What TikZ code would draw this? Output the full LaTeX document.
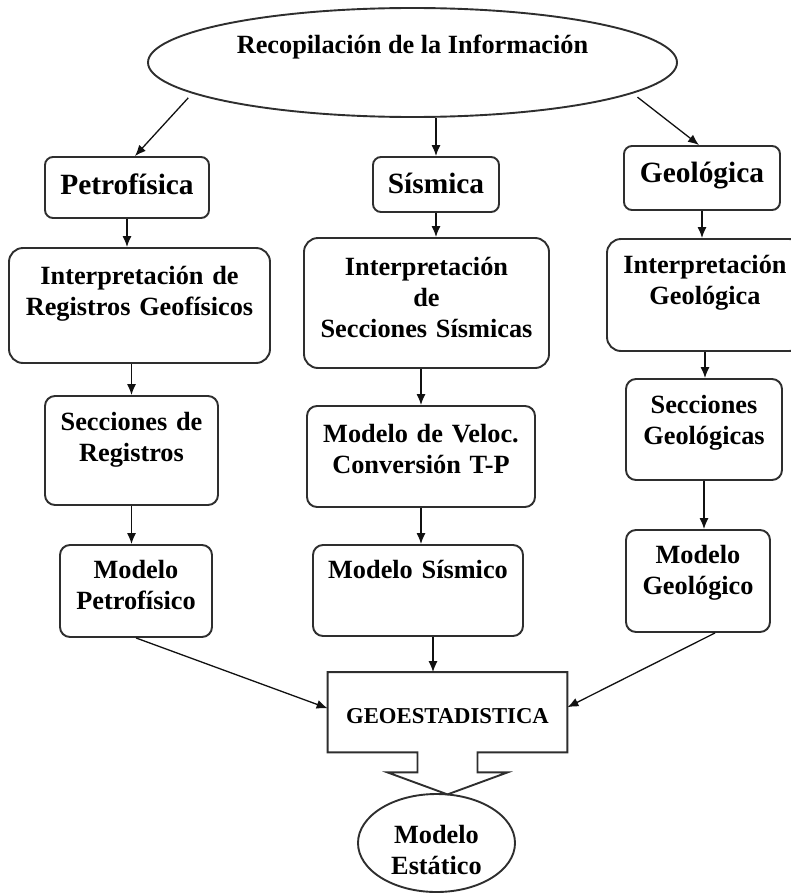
\documentclass[tikz,border=0pt]{standalone}
\usepackage{fontspec}
\setmainfont{Liberation Serif}
\usetikzlibrary{arrows.meta, shapes.geometric, calc}
\definecolor{cFrame}{HTML}{2E2E2E}
\definecolor{cArrow}{HTML}{111111}

\begin{document}
\begin{tikzpicture}[
  x=0.5pt, y=-0.5pt,
  box/.style={rectangle, rounded corners=5pt, draw=cFrame, line width=0.95pt,
    inner sep=0pt, align=center, anchor=base,
    font=\fontsize{13.15}{15.5}\selectfont\bfseries},
  head/.style={box, rounded corners=4pt, font=\fontsize{14.7}{17}\selectfont\bfseries},
  bigbox/.style={box, rounded corners=7pt},
  oval/.style={ellipse, draw=cFrame, line width=0.95pt, inner sep=0pt, align=center,
    font=\fontsize{13.15}{15.5}\selectfont\bfseries},
  geobox/.style={rectangle, inner sep=0pt, align=center, anchor=base,
    font=\fontsize{11.35}{13}\selectfont\bfseries},
  frame/.style={draw=cFrame, line width=0.95pt},
  arr/.style={-{Latex[length=5.5pt,width=4.5pt]}, line width=0.65pt, cArrow}
]
  \useasboundingbox (0,0) rectangle (791,894);

  \node[oval, minimum width=264.5pt, minimum height=54.5pt, text height=10pt, text depth=19.5pt]
    (info) at (412.5,62.5) {Recopilación de la Información};

  % first row
  \node[head, text width=82pt, text height=18.5pt, text depth=12pt] (petro) at (127,194) {Petrofísica};
  \node[head, text width=63pt, text height=18pt, text depth=9.5pt] (sism) at (436,193) {Sísmica};
  \node[head, text width=78pt, text height=18pt, text depth=14pt] (geol) at (702,182) {Geológica};

  % interpretation
  \node[bigbox, text width=130.5pt, text height=18pt, text depth=39.5pt] (intreg) at (139.5,284)
    {Interpretación de\\Registros Geofísicos};
  \node[bigbox, text width=122.5pt, text height=18.5pt, text depth=46.5pt] (intsis) at (426.5,275)
    {Interpretación\\de\\Secciones Sísmicas};
  \node[bigbox, text width=98pt, text height=17pt, text depth=39pt] (intgeo) at (705,273)
    {Interpretación\\Geológica};

  \node[box, text width=86.5pt, text height=17pt, text depth=37.5pt] (secreg) at (131.5,430)
    {Secciones de\\Registros};
  \node[box, text width=114pt, text height=18pt, text depth=32.5pt] (veloc) at (421,442)
    {Modelo de Veloc.\\Conversión T-P};
  \node[box, text width=78pt, text height=17pt, text depth=33.5pt] (secgeo) at (704,413)
    {Secciones\\Geológicas};

  % models
  \node[box, text width=76pt, text height=16.5pt, text depth=29.5pt] (modpet) at (136,578)
    {Modelo\\Petrofísico};
  \node[box, text width=105pt, text height=16.5pt, text depth=29pt] (modsis) at (418,578)
    {Modelo Sísmico};
  \node[box, text width=72pt, text height=16.5pt, text depth=34.5pt] (modgeo) at (698,563)
    {Modelo\\Geológico};

  \node[geobox, text width=119.5pt, text height=25.25pt, text depth=14.5pt] (geo) at (447.5,723)
    {GEOESTADISTICA};
  \node[oval, minimum width=78.5pt, minimum height=49pt, text width=50pt, text height=10pt, text depth=10pt]
    (estat) at (436.5,843) {Modelo\\Estático};

  % box with the arrow notch
  \draw[frame] ($(geo.south)+(-30,0)$) -- (geo.south west) -- (geo.north west) -- (geo.north east)
    -- (geo.south east) -- ($(geo.south)+(30,0)$) -- ++(0,20) -- ++(30,0)
    -- ($(geo.south)+(0,42)$) -- ($(geo.south)+(-60,20)$) -- ++(30,0) -- cycle;

  \draw[arr, shorten <=3pt] (info.188.4) -- ([xshift=4pt]petro.north);
  \draw[arr] (info.south -| sism.north) -- (sism.north);
  \draw[arr, shorten <=3pt] (info.352.3) -- ([xshift=-1.5pt]geol.north);

  \draw[arr] (petro.south) -- (petro.south |- intreg.north);
  \draw[arr] (secreg.north |- intreg.south) -- (secreg.north);
  \draw[arr] (secreg.south) -- (secreg.south |- modpet.north);

  \draw[arr] (sism.south) -- (sism.south |- intsis.north);
  \draw[arr] (veloc.north |- intsis.south) -- (veloc.north);
  \draw[arr] (veloc.south) -- (veloc.south |- modsis.north);

  \draw[arr] (geol.south) -- (geol.south |- intgeo.north);
  \draw[arr] (intgeo.south) -- (intgeo.south |- secgeo.north);
  \draw[arr] (secgeo.south) -- (secgeo.south |- modgeo.north);

  \draw[arr] (modpet.south) -- ([yshift=2pt]geo.west);
  \draw[arr] ($(modsis.south)+(15,0)$) -- ($(modsis.south |- geo.north)+(15,0)$);
  \draw[arr] ([xshift=8.5pt]modgeo.south) -- ([yshift=2.5pt]geo.east);

\end{tikzpicture}
\end{document}
